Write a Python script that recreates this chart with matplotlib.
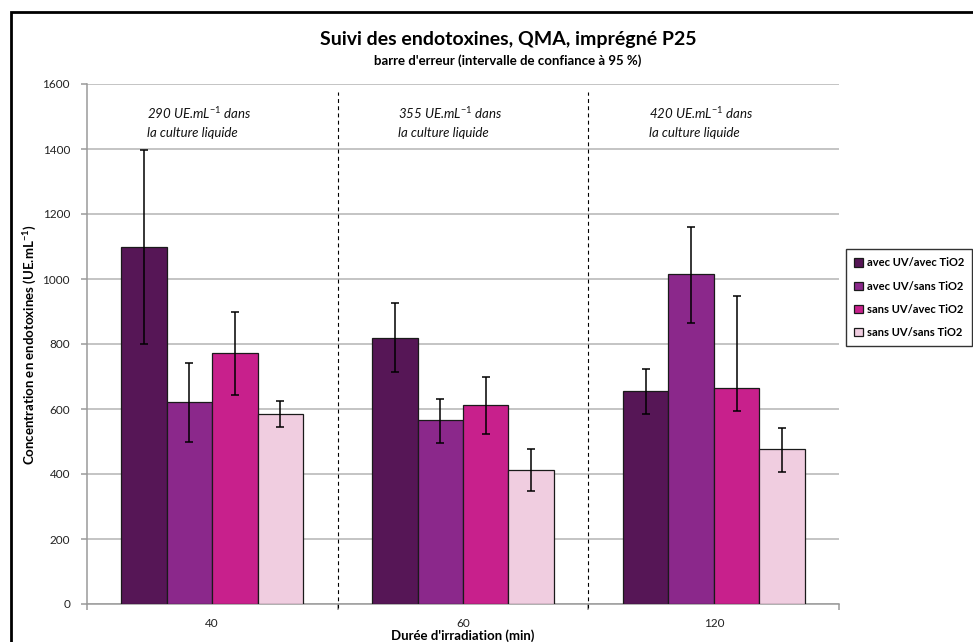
import matplotlib.pyplot as plt
from matplotlib.patches import Rectangle
import numpy as np

plt.rcParams['font.family'] = ['Lato', 'DejaVu Sans']
plt.rcParams['mathtext.fontset'] = 'custom'
plt.rcParams['mathtext.rm'] = 'Lato'
plt.rcParams['mathtext.it'] = 'Lato:italic'
plt.rcParams['mathtext.bf'] = 'Lato:bold'

# durations (min) on the category axis
durations = ['40', '60', '120']
series_labels = ['avec UV/avec TiO2', 'avec UV/sans TiO2',
                 'sans UV/avec TiO2', 'sans UV/sans TiO2']
colors = ['#561656', '#8b288b', '#c8208c', '#f0cde0']

# mean concentration, one list per series (40, 60, 120 min)
uv_tio2 = [1097, 820, 655]
uv_no_tio2 = [622, 566, 1014]
no_uv_tio2 = [772, 612, 665]
no_uv_no_tio2 = [585, 413, 476]

# error bar ends (95 % confidence interval)
uv_tio2_hi = [1397, 926, 723]
uv_tio2_lo = [800, 714, 586]
uv_no_tio2_hi = [741, 632, 1159]
uv_no_tio2_lo = [497, 496, 864]
no_uv_tio2_hi = [897, 698, 947]
no_uv_tio2_lo = [644, 524, 595]
no_uv_no_tio2_hi = [625, 478, 542]
no_uv_no_tio2_lo = [545, 347, 405]

culture_notes = ['290', '355', '420']

values = [uv_tio2, uv_no_tio2, no_uv_tio2, no_uv_no_tio2]
highs = [uv_tio2_hi, uv_no_tio2_hi, no_uv_tio2_hi, no_uv_no_tio2_hi]
lows = [uv_tio2_lo, uv_no_tio2_lo, no_uv_tio2_lo, no_uv_no_tio2_lo]

W, H = 973, 642
fig = plt.figure(figsize=(W / 100, H / 100), dpi=100)
ax = fig.add_axes([86.7 / W, 38 / H, 752.6 / W, 520 / H])

x = np.arange(len(durations))
width = 0.181
for i in range(len(values)):
    v = np.array(values[i])
    err = [v - np.array(lows[i]), np.array(highs[i]) - v]
    ax.bar(x + (i - 1.5) * width, v, width, color=colors[i], edgecolor='#1a1a1a',
           linewidth=0.9, label=series_labels[i], zorder=3,
           yerr=err, error_kw=dict(ecolor='black', elinewidth=1.1, capsize=3,
                                   capthick=1.1, zorder=4))

ax.set_xlim(-0.5, 2.5)
ax.set_ylim(0, 1600)
ax.set_yticks(np.arange(0, 1601, 200))
ax.grid(axis='y', color='#b4b4b4', linewidth=1.1, zorder=0)
for s in ['top', 'right']:
    ax.spines[s].set_visible(False)
for s in ['left', 'bottom']:
    ax.spines[s].set_color('#9a9a9a')
    ax.spines[s].set_linewidth(1.1)

ax.set_xticks(x)
ax.set_xticklabels(durations)
ax.set_xticks([-0.5, 0.5, 1.5, 2.5], minor=True)
ax.tick_params(axis='x', which='major', length=0, pad=10, labelsize=8.5, colors='#222222')
ax.tick_params(axis='x', which='minor', length=4, color='#9a9a9a', width=1.1)
ax.tick_params(axis='y', length=4, color='#9a9a9a', width=1.1, pad=8,
               labelsize=8.5, labelcolor='#222222')

# separators between durations
for b in [0.5, 1.5]:
    ax.plot([b, b], [-12, 1575], color='black', linewidth=0.8,
            linestyle=(0, (3.5, 3)), clip_on=False, zorder=2)

# notes on culture concentration
for i, n in enumerate(culture_notes):
    ax.text(i - 0.26, 1510, n + ' UE.mL$^{\\mathit{-1}}$ dans', style='italic',
            fontsize=9.5, ha='left', va='center', color='#111111')
    ax.text(i - 0.26, 1450, 'la culture liquide', style='italic',
            fontsize=9.5, ha='left', va='center', color='#111111')

fig.text(508 / W, 1 - 40 / H, 'Suivi des endotoxines, QMA, imprégné P25',
         fontsize=14, fontweight='bold', ha='center', va='center')
fig.text(508 / W, 1 - 61 / H, "barre d'erreur (intervalle de confiance à 95 %)",
         fontsize=9.5, fontweight='bold', ha='center', va='center')
fig.text(30 / W, 1 - 345 / H, 'Concentration en endotoxines (UE.mL$^{\\mathbf{-1}}$)',
         fontsize=9.5, fontweight='bold', rotation=90, ha='center', va='center')
fig.text(463 / W, 1 - 635.5 / H, "Durée d'irradiation (min)",
         fontsize=9.5, fontweight='bold', ha='center', va='center')

leg = fig.legend(loc='upper left', bbox_to_anchor=(846 / W, 1 - 249 / H),
                 frameon=True, fancybox=False, edgecolor='black',
                 prop=dict(weight='bold', size=8), handlelength=0.75,
                 handleheight=0.75, handletextpad=0.35, labelspacing=1.1,
                 borderpad=0.75, borderaxespad=0)
leg.get_frame().set_linewidth(1.0)

# chart frame
fig.patches.append(Rectangle((10.5 / W, -0.05), 1.0, 1 - 12 / H + 0.05,
                             transform=fig.transFigure, fill=False,
                             edgecolor='black', linewidth=2.0))

fig.savefig('out.png', dpi=100)
